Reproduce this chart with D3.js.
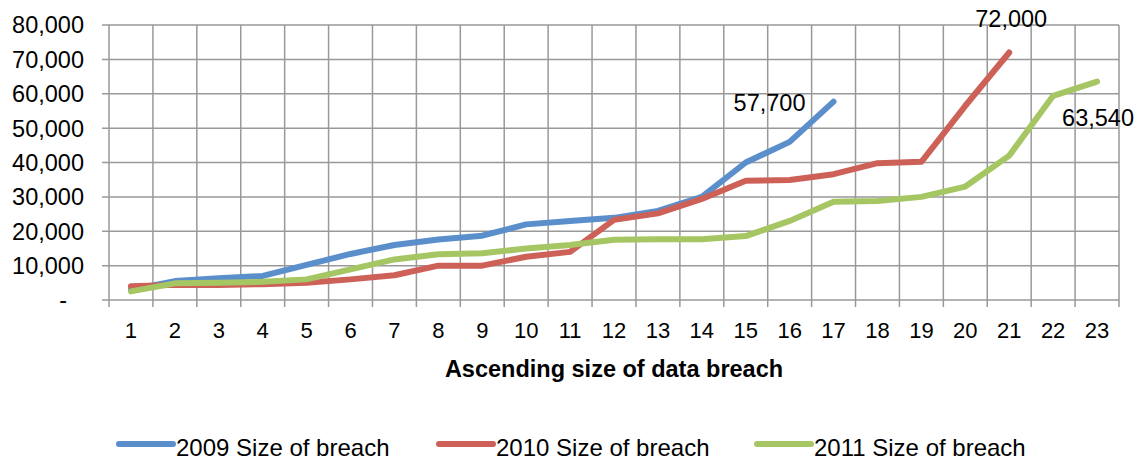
<!DOCTYPE html>
<html>
<head>
<meta charset="utf-8">
<script src="https://cdn.jsdelivr.net/npm/d3@7"></script>
<style>
  body { margin: 0; background: #fff; }
  text { font-family: "Liberation Sans", Arial, sans-serif; fill: #000; }
</style>
</head>
<body>
<div class="chart"></div>
<script>
// Data
var categories = d3.range(1, 24);
var series2009 = [3000, 5500, 6300, 7000, 10200, 13400, 16000, 17600, 18700, 22000, 23000, 23900, 25900, 30000, 40000, 46000, 57700];
var series2010 = [4000, 4400, 4400, 4600, 5000, 6000, 7200, 10000, 10000, 12600, 14000, 23300, 25200, 29400, 34700, 34900, 36600, 39800, 40200, 56500, 72000];
var series2011 = [2500, 4850, 5000, 5300, 6000, 8900, 11800, 13300, 13600, 15000, 16000, 17500, 17700, 17700, 18600, 23000, 28600, 28800, 30000, 33000, 42000, 59400, 63540];
var seriesNames = ["2009 Size of breach", "2010 Size of breach", "2011 Size of breach"];
var colors = ["#5b8fcc", "#cd6158", "#a5c663"];
var yTicks = [0, 10000, 20000, 30000, 40000, 50000, 60000, 70000, 80000];
var endLabels = ["57,700", "72,000", "63,540"];

var svgWidth = 1143;
var svgHeight = 460;
var margin = { top: 25, right: 24, bottom: 160, left: 109 };
var width = svgWidth - margin.left - margin.right;
var height = svgHeight - margin.top - margin.bottom;

var svg = d3.select(".chart")
    .append("svg")
    .attr("width", svgWidth)
    .attr("height", svgHeight);

var chart = svg.append("g")
    .attr("transform", "translate(" + margin.left + "," + margin.top + ")");

// Scales
var xBand = d3.scaleBand().domain(categories).range([0, width]);
var yLinearScale = d3.scaleLinear().domain([0, 80000]).range([height, 0]);
var xPoint = function (c) { return xBand(c) + xBand.bandwidth() / 2; };

// Horizontal gridlines
chart.append("g")
    .selectAll("line")
    .data(yTicks)
    .enter()
    .append("line")
    .attr("x1", -7)
    .attr("x2", width)
    .attr("y1", function (d) { return yLinearScale(d); })
    .attr("y2", function (d) { return yLinearScale(d); })
    .attr("stroke", "#999")
    .attr("stroke-width", 1.5);

// Vertical gridlines at band edges (with ticks below the axis)
var edges = categories.map(function (c) { return xBand(c); }).concat([width]);
chart.append("g")
    .selectAll("line")
    .data(edges)
    .enter()
    .append("line")
    .attr("x1", function (d) { return d; })
    .attr("x2", function (d) { return d; })
    .attr("y1", 0)
    .attr("y2", height + 7)
    .attr("stroke", "#999")
    .attr("stroke-width", 1.5);

// Y tick labels
chart.append("g")
    .selectAll("text")
    .data(yTicks)
    .enter()
    .append("text")
    .attr("x", function (d) { return d === 0 ? -42 : -25; })
    .attr("y", function (d) { return yLinearScale(d); })
    .attr("dy", "0.36em")
    .attr("text-anchor", "end")
    .style("font-size", "23.5px")
    .text(function (d) { return d === 0 ? "-" : d3.format(",")(d); });

// X tick labels
chart.append("g")
    .selectAll("text")
    .data(categories)
    .enter()
    .append("text")
    .attr("x", function (d) { return xPoint(d); })
    .attr("y", height + 30)
    .attr("dy", "0.36em")
    .attr("text-anchor", "middle")
    .style("font-size", "22px")
    .text(function (d) { return d; });

// X axis title
chart.append("text")
    .attr("x", width / 2)
    .attr("y", height + 69)
    .attr("dy", "0.36em")
    .attr("text-anchor", "middle")
    .style("font-size", "23.5px")
    .style("font-weight", "bold")
    .text("Ascending size of data breach");

// Lines
var line = d3.line()
    .x(function (d, i) { return xPoint(categories[i]); })
    .y(function (d) { return yLinearScale(d); });

var allSeries = [series2009, series2010, series2011];
chart.append("g")
    .selectAll("path")
    .data(allSeries)
    .enter()
    .append("path")
    .attr("d", line)
    .attr("fill", "none")
    .attr("stroke", function (d, i) { return colors[i]; })
    .attr("stroke-width", 6)
    .attr("stroke-linejoin", "round")
    .attr("stroke-linecap", "round");

// End value labels
var labelPos = [
    { dx: -64, dy: 1 },
    { dx: 2, dy: -34 },
    { dx: 1, dy: 36 }
];
chart.append("g")
    .selectAll("text")
    .data(allSeries)
    .enter()
    .append("text")
    .attr("x", function (d, i) { return xPoint(categories[d.length - 1]) + labelPos[i].dx; })
    .attr("y", function (d, i) { return yLinearScale(d[d.length - 1]) + labelPos[i].dy; })
    .attr("dy", "0.36em")
    .attr("text-anchor", "middle")
    .style("font-size", "23.5px")
    .text(function (d, i) { return endLabels[i]; });

// Legend
var legendX = [119, 439, 757];
var legend = svg.append("g")
    .selectAll("g")
    .data(seriesNames)
    .enter()
    .append("g")
    .attr("transform", function (d, i) { return "translate(" + legendX[i] + ",444)"; });

legend.append("line")
    .attr("x1", 0)
    .attr("x2", 54)
    .attr("y1", 0)
    .attr("y2", 0)
    .attr("stroke", function (d, i) { return colors[i]; })
    .attr("stroke-width", 6)
    .attr("stroke-linecap", "round");

legend.append("text")
    .attr("x", 57)
    .attr("y", 3)
    .attr("dy", "0.36em")
    .style("font-size", "24px")
    .text(function (d) { return d; });
</script>
</body>
</html>
